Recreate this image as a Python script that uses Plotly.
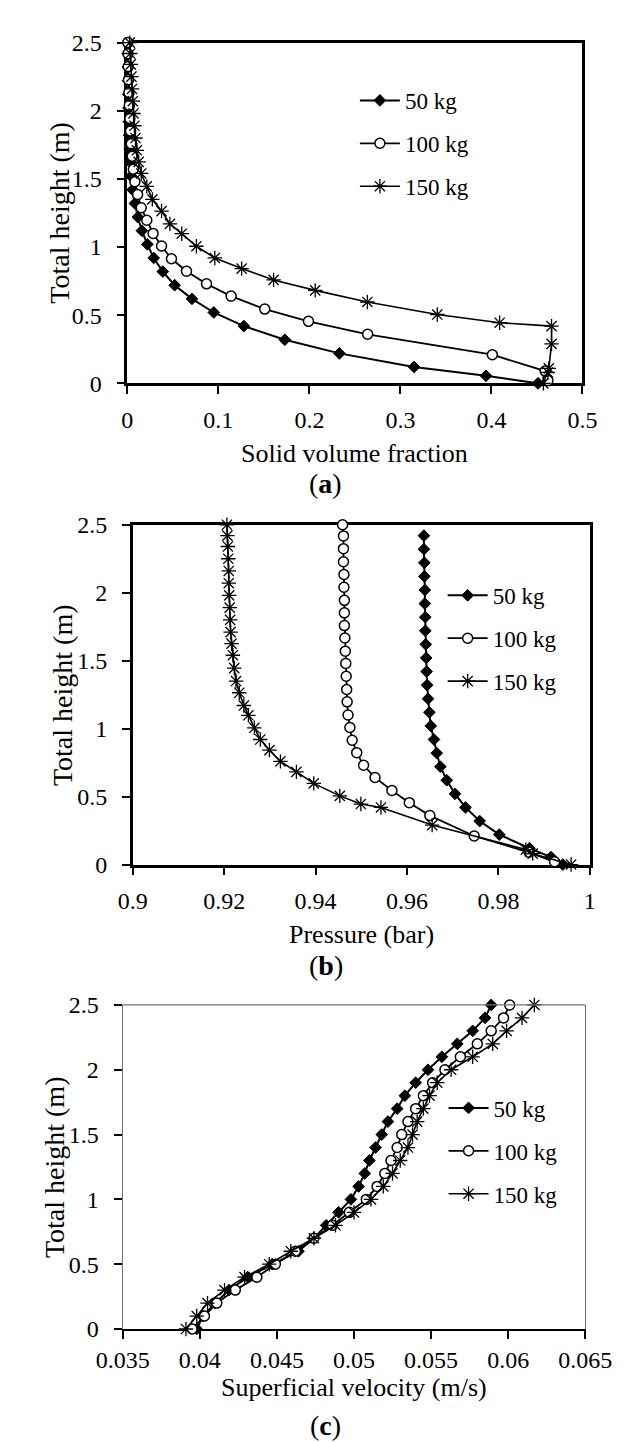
import plotly.graph_objects as go

W, H = 628, 1443

names = ["50 kg", "100 kg", "150 kg"]

# ---------------- data ----------------
# heights (m) shared by panels (a) and (b)
h50 = [0, 0.055, 0.12, 0.22, 0.32, 0.42, 0.52, 0.62, 0.72, 0.82, 0.92, 1.02, 1.12,
       1.22, 1.32, 1.42, 1.52, 1.62, 1.72, 1.82, 1.92, 2.02, 2.12, 2.22, 2.32, 2.42]
h100 = [0.02, 0.09, 0.21, 0.36, 0.455, 0.545, 0.64, 0.73, 0.823, 0.914, 1.008, 1.10,
        1.197, 1.288, 1.385, 1.48, 1.57, 1.667, 1.758, 1.852, 1.944, 2.04, 2.134,
        2.228, 2.324, 2.418, 2.5]
h150 = [0, 0.08, 0.11, 0.29, 0.42, 0.445, 0.505, 0.597, 0.682, 0.759, 0.842, 0.92,
        1.006, 1.098, 1.17, 1.264, 1.35, 1.445, 1.54, 1.625, 1.71, 1.80, 1.89, 1.98,
        2.07, 2.16, 2.25, 2.34, 2.42, 2.5]

# (a) solid volume fraction
svf50 = [0.451, 0.394, 0.315, 0.233, 0.173, 0.128, 0.095, 0.071, 0.052, 0.039, 0.029,
         0.022, 0.016, 0.0115, 0.0083, 0.0057, 0.0042, 0.0033, 0.0026, 0.002, 0.0016,
         0.0013, 0.001, 0.0008, 0.0006, 0.0005]
svf100 = [0.462, 0.459, 0.401, 0.264, 0.199, 0.151, 0.114, 0.087, 0.065, 0.0485, 0.0376,
          0.0283, 0.0214, 0.0153, 0.0113, 0.0083, 0.0066, 0.0053, 0.0043, 0.0035,
          0.0028, 0.0022, 0.0017, 0.0013, 0.001, 0.0007, 0.0005]
svf150 = [0.457, 0.462, 0.463, 0.466, 0.466, 0.409, 0.3405, 0.2637, 0.2064, 0.1607,
          0.1256, 0.0961, 0.0759, 0.0598, 0.0468, 0.0376, 0.0275, 0.0214, 0.0153,
          0.0125, 0.0105, 0.009, 0.0078, 0.0068, 0.006, 0.0052, 0.0045, 0.0038,
          0.0032, 0.0027]

# (b) pressure (bar)
p50 = [0.9941, 0.9915, 0.9868, 0.9802, 0.9759, 0.9728, 0.9705, 0.9687, 0.9673, 0.9665,
       0.9659, 0.9652, 0.9649, 0.9646, 0.9644, 0.9643, 0.9642, 0.9641, 0.9640, 0.9640,
       0.9639, 0.9639, 0.9638, 0.9638, 0.9637, 0.9637]
p100 = [0.9923, 0.9867, 0.9747, 0.965, 0.9605, 0.9567, 0.953, 0.9505, 0.949, 0.948,
        0.9475, 0.9471, 0.9469, 0.9468, 0.9467, 0.9466, 0.9465, 0.9464, 0.9463, 0.9463,
        0.9463, 0.9462, 0.9462, 0.9461, 0.9461, 0.9461, 0.9459]
p150 = [0.9959, 0.9875, 0.986, 0.9655, 0.9543, 0.9499, 0.9453, 0.9396, 0.9358, 0.9323,
        0.9299, 0.9279, 0.9266, 0.9253, 0.9243, 0.9233, 0.9226, 0.9222, 0.9219, 0.9216,
        0.9214, 0.9213, 0.9212, 0.9211, 0.921, 0.921, 0.9209, 0.9208, 0.9207, 0.9206]

# (c) superficial velocity (m/s)
hc = [0, 0.1, 0.2, 0.3, 0.4, 0.5, 0.6, 0.7, 0.8, 0.9, 1.0, 1.1, 1.2, 1.3, 1.4, 1.5,
      1.6, 1.7, 1.8, 1.9, 2.0, 2.1, 2.2, 2.3, 2.4, 2.5]
vel50 = [0.0398, 0.0402, 0.041, 0.0419, 0.0431, 0.0447, 0.0464, 0.0474, 0.0482, 0.049,
         0.0498, 0.0503, 0.0507, 0.051, 0.0514, 0.0518, 0.0522, 0.0528, 0.0533, 0.054,
         0.0548, 0.0557, 0.0567, 0.0577, 0.0585, 0.0589]
vel100 = [0.0395, 0.0403, 0.0411, 0.0423, 0.0437, 0.0449, 0.0462, 0.0474, 0.0486, 0.0497,
          0.0508, 0.0515, 0.052, 0.0524, 0.0528, 0.0531, 0.0535, 0.054, 0.0545, 0.0551,
          0.0559, 0.0569, 0.058, 0.0589, 0.0597, 0.0601]
vel150 = [0.0391, 0.0398, 0.0405, 0.0416, 0.0429, 0.0445, 0.0459, 0.0474, 0.0488, 0.05,
          0.0511, 0.0519, 0.0525, 0.053, 0.0535, 0.0538, 0.0541, 0.0545, 0.0549, 0.0554,
          0.0563, 0.0577, 0.059, 0.0599, 0.0609, 0.0617]

# tick labels
y_ticks = [0, 0.5, 1, 1.5, 2, 2.5]
y_labels = ["0", "0.5", "1", "1.5", "2", "2.5"]
xa_ticks = [0, 0.1, 0.2, 0.3, 0.4, 0.5]
xa_labels = ["0", "0.1", "0.2", "0.3", "0.4", "0.5"]
xb_ticks = [0.9, 0.92, 0.94, 0.96, 0.98, 1.0]
xb_labels = ["0.9", "0.92", "0.94", "0.96", "0.98", "1"]
xc_ticks = [0.035, 0.04, 0.045, 0.05, 0.055, 0.06, 0.065]
xc_labels = ["0.035", "0.04", "0.045", "0.05", "0.055", "0.06", "0.065"]

x_titles = ["Solid volume fraction", "Pressure (bar)", "Superficial velocity (m/s)"]
y_title = "Total height (m)"
captions = ["(<b>a</b>)", "(<b>b</b>)", "(<b>c</b>)"]

# ---------------- styling ----------------
FONT = "Liberation Serif"
TICK_FS = 24
TITLE_FS = 26
YTITLE_FS = 28
LEG_FS = 23
CAP_FS = 28


def px_x(p):
    return p / W


def px_y(p):
    return 1 - p / H


# plot-area pixel boxes: (left, right, top, bottom)
boxes = [(101, 599, 22, 369), (107, 607, 513, 859), (96, 602, 1002, 1332)]

styles = [
    dict(mode="lines+markers",
         line=dict(color="black", width=2),
         marker=dict(symbol="diamond", size=9, color="black",
                     line=dict(color="black", width=1))),
    dict(mode="lines+markers",
         line=dict(color="black", width=1.8),
         marker=dict(symbol="circle", size=10, color="white",
                     line=dict(color="black", width=1.5))),
    dict(mode="lines+markers",
         line=dict(color="black", width=1.6),
         marker=dict(symbol="asterisk-open", size=12,
                     line=dict(color="#222222", width=1.3))),
]

fig = go.Figure()

panels = [
    ([svf50, svf100, svf150], [h50, h100, h150]),
    ([p50, p100, p150], [h50, h100, h150]),
    ([vel50, vel100, vel150], [hc, hc, hc]),
]
legend_ids = ["legend", "legend2", "legend3"]

for i, (xs, ys) in enumerate(panels):
    ax = "" if i == 0 else str(i + 1)
    for j in range(3):
        fig.add_trace(go.Scatter(
            x=xs[j], y=ys[j], name=names[j],
            xaxis="x" + ax, yaxis="y" + ax,
            legend=legend_ids[i], legendgroup=f"p{i}s{j}",
            cliponaxis=False, **styles[j]))

x_ranges = [[0, 0.5], [0.9, 1.0], [0.035, 0.065]]
x_tick_sets = [(xa_ticks, xa_labels), (xb_ticks, xb_labels), (xc_ticks, xc_labels)]
x_standoff = [5, 5, 0]

layout = dict(
    width=W, height=H,
    margin=dict(l=0, r=0, t=0, b=0),
    paper_bgcolor="white", plot_bgcolor="white",
    font=dict(family=FONT, color="black", size=TICK_FS),
    showlegend=True,
)

for i in range(3):
    l, r, t, b = boxes[i]
    sfx = "" if i == 0 else str(i + 1)
    heavy = i < 2
    lc = "black" if heavy else "#707070"
    lw = 2.5 if heavy else 1.2
    layout["xaxis" + sfx] = dict(
        domain=[px_x(l), px_x(r)], range=x_ranges[i], anchor="y" + sfx,
        tickvals=x_tick_sets[i][0], ticktext=x_tick_sets[i][1],
        showgrid=False, zeroline=False,
        showline=True, linecolor="black", linewidth=2.5 if heavy else 2,
        mirror=heavy, ticks="outside", ticklen=8, tickwidth=1.5, tickcolor="black",
        ticklabelstandoff=x_standoff[i],
        tickfont=dict(family=FONT, size=TICK_FS, color="black"),
        layer="below traces", fixedrange=True,
    )
    layout["yaxis" + sfx] = dict(
        domain=[px_y(b), px_y(t)], range=[0, 2.5], anchor="x" + sfx,
        tickvals=y_ticks, ticktext=y_labels,
        showgrid=False, zeroline=False,
        showline=True, linecolor=lc, linewidth=lw, mirror=True,
        ticks="outside", ticklen=8, tickwidth=1.5, tickcolor="black",
        ticklabelstandoff=10, tickfont=dict(family=FONT, size=TICK_FS, color="black"),
        layer="below traces", fixedrange=True,
    )

# legends
legend_pos = [(350, 59), (446, 563), (447, 1085)]
for i, (lx, ly) in enumerate(legend_pos):
    layout[legend_ids[i]] = dict(
        x=px_x(lx), y=px_y(ly), xanchor="left", yanchor="top",
        bgcolor="rgba(0,0,0,0)", borderwidth=0,
        font=dict(family=FONT, size=LEG_FS, color="black"),
        tracegroupgap=10, itemwidth=40,
    )

fig.update_layout(**layout)

# top border of panel (c), thin grey
l, r, t, b = boxes[2]
fig.add_shape(type="line", xref="paper", yref="paper",
              x0=px_x(l), x1=px_x(r), y0=px_y(t), y1=px_y(t),
              line=dict(color="#707070", width=1.2))

# axis titles and captions
x_title_y = [440, 930, 1392]
y_title_x = [27, 30, 22]
caption_y = [471, 962, 1430]
for i in range(3):
    l, r, t, b = boxes[i]
    fig.add_annotation(text=x_titles[i], xref="paper", yref="paper",
                       x=px_x((l + r) / 2), y=px_y(x_title_y[i]),
                       xanchor="center", yanchor="middle", showarrow=False,
                       font=dict(family=FONT, size=TITLE_FS, color="black"))
    fig.add_annotation(text=y_title, xref="paper", yref="paper", textangle=-90,
                       x=px_x(y_title_x[i]), y=px_y((t + b) / 2),
                       xanchor="center", yanchor="middle", showarrow=False,
                       font=dict(family=FONT, size=YTITLE_FS, color="black"))
    fig.add_annotation(text=captions[i], xref="paper", yref="paper",
                       x=px_x(318), y=px_y(caption_y[i]),
                       xanchor="center", yanchor="middle", showarrow=False,
                       font=dict(family=FONT, size=CAP_FS, color="black"))

fig.write_html("out.html")
